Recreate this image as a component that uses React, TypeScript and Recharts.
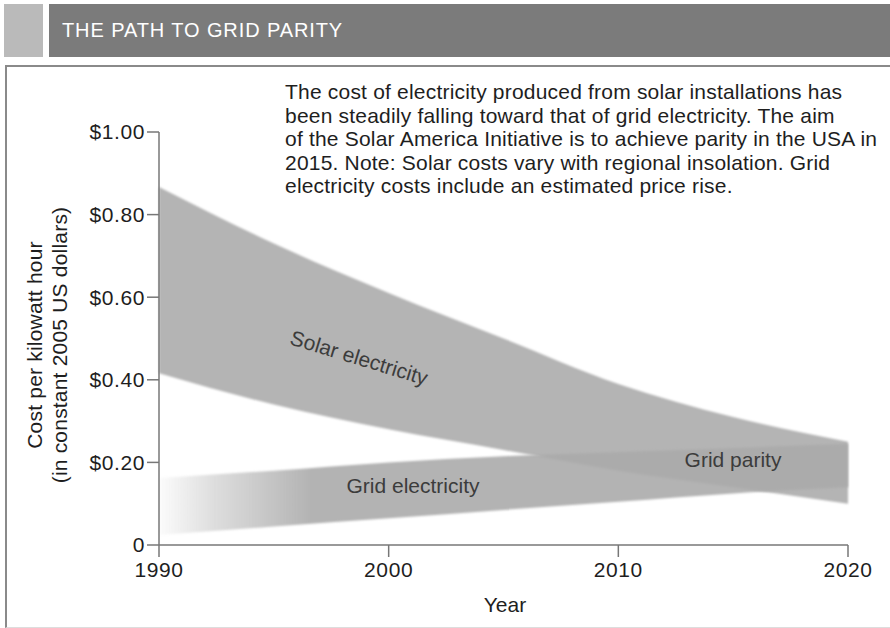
import { Area, AreaChart, XAxis, YAxis } from "recharts";

const YEARS = [1990, 1995, 2000, 2005, 2010, 2015, 2020];
const SOLAR_LOW = [0.416, 0.34, 0.28, 0.23, 0.18, 0.14, 0.1];
const SOLAR_HIGH = [0.867, 0.73, 0.61, 0.5, 0.39, 0.31, 0.25];
const GRID_LOW = [0.024, 0.045, 0.065, 0.085, 0.105, 0.125, 0.14];
const GRID_HIGH = [0.162, 0.18, 0.2, 0.215, 0.225, 0.235, 0.245];

const X_TICKS = [1990, 2000, 2010, 2020];
const Y_TICKS = [0, 0.2, 0.4, 0.6, 0.8, 1.0];

const TITLE = "THE PATH TO GRID PARITY";
const NOTE = [
  "The cost of electricity produced from solar installations has",
  "been steadily falling toward that of grid electricity. The aim",
  "of the Solar America Initiative is to achieve parity in the USA in",
  "2015. Note: Solar costs vary with regional insolation. Grid",
  "electricity costs include an estimated price rise.",
];

const data = YEARS.map((year, i) => ({
  year,
  solar: [SOLAR_LOW[i], SOLAR_HIGH[i]],
  grid: [GRID_LOW[i], GRID_HIGH[i]],
}));

const FONT = "'Liberation Sans', Arial, Helvetica, sans-serif";
const AXIS = "#777";
const tick = { fontSize: 21, fill: "#1e1e1e", fontFamily: FONT, letterSpacing: 0.6 };
const label = { position: "absolute" as const, fontSize: 21, color: "#3c3c3c", whiteSpace: "nowrap" as const };

export default function App() {
  return (
    <div style={{ position: "absolute", left: 0, top: 0, width: 890, height: 628, background: "#fff", overflow: "hidden", fontFamily: FONT }}>
      {/* header bar */}
      <div style={{ position: "absolute", left: 4, top: 4, width: 39, height: 53, background: "#bababa" }} />
      <div style={{ position: "absolute", left: 49, top: 4, width: 841, height: 53, background: "#7b7b7b" }} />
      <div style={{ position: "absolute", left: 62, top: 19, color: "#fff", fontSize: 20, letterSpacing: 0.9 }}>{TITLE}</div>

      {/* frame */}
      <div style={{ position: "absolute", left: 5, top: 65, width: 900, height: 560, borderTop: "2px solid #8a8a8a", borderLeft: "2px solid #8a8a8a", borderBottom: "1px solid #ddd" }} />

      <div style={{ position: "absolute", left: 0, top: 0 }}>
        <AreaChart width={890} height={628} data={data} margin={{ top: 132, right: 42, bottom: 53, left: 99 }}>
          <defs>
            <linearGradient id="gridFade" x1="0" y1="0" x2="1" y2="0">
              <stop offset="0%" stopColor="#ababab" stopOpacity={0.04} />
              <stop offset="8%" stopColor="#ababab" stopOpacity={0.4} />
              <stop offset="22%" stopColor="#ababab" stopOpacity={0.9} />
              <stop offset="100%" stopColor="#ababab" stopOpacity={0.9} />
            </linearGradient>
            <filter id="soft" x="-5%" y="-5%" width="110%" height="110%">
              <feGaussianBlur stdDeviation="1.2" />
            </filter>
          </defs>
          <XAxis
            dataKey="year"
            type="number"
            domain={[1990, 2020]}
            ticks={X_TICKS}
            height={30}
            tickSize={12}
            tickMargin={5}
            stroke={AXIS}
            strokeWidth={1.5}
            tick={tick}
          />
          <YAxis
            type="number"
            domain={[0, 1]}
            ticks={Y_TICKS}
            width={60}
            tickSize={12}
            tickMargin={2}
            stroke={AXIS}
            strokeWidth={1.5}
            tick={tick}
            tickFormatter={(v) => (v === 0 ? "0" : `$${v.toFixed(2)}`)}
          />
          <Area
            type="monotone"
            dataKey="solar"
            stroke="none"
            fill="#b4b4b4"
            fillOpacity={1}
            filter="url(#soft)"
            isAnimationActive={false}
          />
          <Area
            type="monotone"
            dataKey="grid"
            stroke="none"
            fill="url(#gridFade)"
            fillOpacity={1}
            filter="url(#soft)"
            isAnimationActive={false}
          />
        </AreaChart>
      </div>

      {/* y axis title */}
      <div style={{ position: "absolute", left: 47, top: 345, transform: "translate(-50%, -50%) rotate(-90deg)", whiteSpace: "nowrap", fontSize: 21, lineHeight: "25px", textAlign: "center", color: "#1e1e1e", letterSpacing: 0.2 }}>
        Cost per kilowatt hour
        <br />
        (in constant 2005 US dollars)
      </div>

      {/* x axis title */}
      <div style={{ position: "absolute", left: 505, top: 605, transform: "translate(-50%, -50%)", fontSize: 21, color: "#1e1e1e" }}>Year</div>

      {/* note */}
      <div style={{ position: "absolute", left: 285, top: 80, fontSize: 21, lineHeight: "23.5px", color: "#1e1e1e", whiteSpace: "pre", letterSpacing: 0.2 }}>
        {NOTE.join("\n")}
      </div>

      {/* band labels */}
      <div style={{ ...label, left: 359, top: 358, transform: "translate(-50%, -50%) rotate(17deg)" }}>Solar electricity</div>
      <div style={{ ...label, left: 413, top: 486, transform: "translate(-50%, -50%)" }}>Grid electricity</div>
      <div style={{ ...label, left: 733, top: 460, transform: "translate(-50%, -50%)" }}>Grid parity</div>
    </div>
  );
}
